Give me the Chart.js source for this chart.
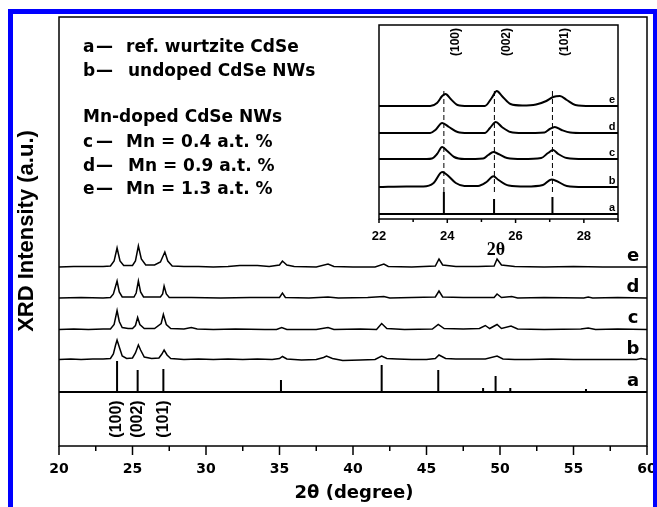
<!DOCTYPE html>
<html>
<head>
<meta charset="utf-8">
<script src="https://cdn.jsdelivr.net/npm/chart.js@4"></script>
<style>
  body { margin: 0; background: #fff; }
  #wrap { position: relative; width: 657px; height: 507px; }
  #mainChart { position: absolute; left: 0; top: 0; }
  #insetChart { position: absolute; left: 340px; top: 15px; }
</style>
</head>
<body>
<div id="wrap">
  <canvas id="mainChart" width="657" height="507"></canvas>
  <canvas id="insetChart" width="300" height="250"></canvas>
</div>
<script>
// series order, bottom to top
const seriesLetters = ['a', 'b', 'c', 'd', 'e'];
const legendTexts = ['ref. wurtzite CdSe', 'undoped CdSe NWs', 'Mn = 0.4 a.t. %', 'Mn = 0.9 a.t. %', 'Mn = 1.3 a.t. %'];
const hklLabels = ['(100)', '(002)', '(101)'];

// main pattern, 2θ 20-60
const mainTicks = [20, 25, 30, 35, 40, 45, 50, 55, 60];
const refPeaks2T = [23.95, 25.35, 27.1, 35.1, 41.95, 45.8, 48.85, 49.7, 50.7, 55.85];
const refPeaksI = [31, 22, 23, 12, 27, 22, 4, 16, 4, 3];
const mainOffsets = [54, 86, 116.5, 148, 179];

const traceB = [[20,0.5],[20.8,1],[21.5,0.5],[22.3,1],[23,1],[23.5,1.5],[23.7,6],[23.85,15],[23.95,20],[24.1,13],[24.3,4],[24.6,1.5],[25.0,2],[25.2,7],[25.4,15],[25.55,10],[25.8,3],[26.3,1.5],[26.8,2],[27.0,6],[27.15,10],[27.35,5],[27.6,1.5],[28.5,0.5],[29.5,1],[30.5,0.5],[31.5,1],[32.5,0.5],[33.5,1],[34.5,0.5],[35.0,1.5],[35.2,3.5],[35.5,1],[36.5,0],[37.5,0.5],[38.0,2.5],[38.2,4],[38.6,1.5],[39.3,-0.5],[40.5,0],[41.5,0.5],[41.95,4],[42.3,1.5],[43,1],[44,0.5],[45,0.5],[45.6,1.5],[45.85,5],[46.3,1.5],[47,1],[48,1],[49,1],[49.8,4],[50.2,1],[51,0.5],[52,0.5],[53.5,1],[55,0.5],[56.5,0.5],[58,0.5],[59.3,0.5],[59.6,1.5],[60,0.5]];
const traceC = [[20,0],[21,0.5],[22,0],[23,0.5],[23.5,0.5],[23.75,5],[23.95,19],[24.1,8],[24.3,2],[24.7,1],[25,1],[25.2,4],[25.35,12],[25.5,5],[25.8,1],[26.5,1],[26.95,6],[27.1,15],[27.3,5],[27.6,1],[28.5,0.5],[29.0,2],[29.4,0.5],[30.5,0],[32,0.5],[34,0],[34.8,0],[35.15,2],[35.5,0],[37.5,0],[38.3,2],[38.7,0],[40.5,0.5],[41.6,0],[41.95,6],[42.3,1],[43.5,0],[45.4,0.5],[45.8,5],[46.2,1],[47.5,0.5],[48.6,1],[49.0,4],[49.3,1],[49.8,5],[50.1,1],[50.75,3.5],[51.2,0.5],[53,0],[55.5,0.5],[56,1.5],[56.5,0],[58,0.5],[60,0]];
const traceD = [[20,0],[21.5,0.5],[23,0],[23.5,0.5],[23.7,4],[23.95,17],[24.1,6],[24.3,1],[25.1,1],[25.25,5],[25.4,17],[25.55,6],[25.75,1],[26.9,1],[27.05,4],[27.15,12],[27.3,4],[27.5,0.5],[29,0.5],[31,0],[33,0.5],[35.0,0.5],[35.2,5],[35.4,0.5],[37,0],[38.3,1],[39,0],[41,0.5],[42.1,1.5],[42.5,0],[44,0.5],[45.6,1],[45.85,7],[46.1,1],[47.5,0.5],[49.6,0.5],[49.8,4],[50.1,0.5],[50.8,1.5],[51.2,0],[53,0.5],[55.7,0],[56.0,1],[56.3,0],[58,0.5],[60,0]];
const traceE = [[20,0],[21,0.5],[22,0.5],[23,0.5],[23.5,1],[23.75,6],[23.95,19],[24.15,6],[24.4,1.5],[25,1.5],[25.2,6],[25.4,21],[25.6,8],[25.9,2],[26.5,2],[26.9,5],[27.2,15],[27.4,6],[27.7,1],[28.5,0.5],[29.5,0.5],[30.5,0],[31.5,0.5],[32.3,1.5],[33.5,1.5],[34.3,0.5],[35.0,2],[35.2,6],[35.5,2],[36,0.5],[37.5,0],[38.3,3],[38.7,0.5],[40,0],[41.5,0],[42.1,3],[42.4,0.5],[44,0],[45.6,1],[45.85,8],[46.1,2],[47,0.5],[48.5,0.5],[49.6,1],[49.8,8],[50.1,2],[51,0.5],[53,0],[55,0.5],[57,0],[60,0]];

// inset, 2θ 22-29
const insetTicks = [22, 24, 26, 28];
const insetRef2T = [23.9, 25.37, 27.08];
const insetRefI = [22, 15, 17];
const insetOffsets = [5, 32, 60, 86, 113];
const guide2T = [23.9, 25.38, 27.08];
const guideRange = [27, 130];

const insetB = [[22,0],[22.8,0.5],[23.3,0.5],[23.6,4],[23.85,15],[24.0,12],[24.25,4],[24.5,1],[24.9,1],[25.15,5],[25.35,10.7],[25.5,7],[25.8,1.5],[26.3,0.5],[26.8,2],[27.05,7.4],[27.2,6],[27.5,1],[28,0],[29,0]];
const insetC = [[22,0],[23.4,0],[23.55,0.5],[23.7,5],[23.85,12],[24.0,8],[24.2,2],[24.5,0],[25.05,0.5],[25.2,4],[25.35,7],[25.5,5],[25.75,1],[26.2,0],[26.75,1],[26.95,6],[27.1,9],[27.25,5],[27.5,1],[28,0],[29,0]];
const insetD = [[22,0],[23.5,0],[23.65,3],[23.85,10],[24.05,6],[24.3,1],[24.6,0],[25.1,0],[25.25,5],[25.42,11],[25.6,6],[25.85,1],[26.2,0],[26.85,0.5],[27.0,4],[27.15,6],[27.35,3],[27.6,0.5],[28,0],[29,0]];
const insetE = [[22,0],[23.5,0],[23.7,3],[23.85,10],[23.95,12],[24.1,7],[24.3,1],[24.6,0],[25.1,0],[25.3,8],[25.45,15],[25.6,10],[25.85,2],[26.2,0.5],[26.6,1.5],[26.9,5],[27.1,9],[27.3,10],[27.5,6],[27.75,1],[28.2,0],[29,0]];

// sticks -> polyline
function stickTrace(pos, hts, from, to) {
  const pts = [[from, 0]];
  pos.forEach((p, i) => { pts.push([p, 0], [p, hts[i]], [p, 0]); });
  pts.push([to, 0]);
  return pts;
}

function lineSet(pts, off, width, smooth) {
  return {
    data: pts.map(([x, y]) => ({ x: x, y: y + off })),
    borderColor: '#000',
    borderWidth: width,
    pointRadius: 0,
    fill: false,
    tension: smooth ? 0.4 : 0,
    cubicInterpolationMode: smooth ? 'monotone' : 'default'
  };
}

const mainTraces = [stickTrace(refPeaks2T, refPeaksI, 20, 60), traceB, traceC, traceD, traceE];
const insetTraces = [stickTrace(insetRef2T, insetRefI, 22, 29), insetB, insetC, insetD, insetE];

// main chart: frame, ticks, texts
const mainDecor = {
  id: 'mainDecor',
  afterDraw(chart) {
    const { ctx, chartArea: a, scales: { x, y } } = chart;
    ctx.save();
    ctx.strokeStyle = '#000';
    ctx.lineWidth = 1.5;
    ctx.strokeRect(a.left, a.top, a.right - a.left, a.bottom - a.top);
    x.ticks.forEach(t => {
      const px = x.getPixelForValue(t.value);
      const len = mainTicks.includes(t.value) ? 9 : 5;
      ctx.beginPath();
      ctx.moveTo(px, a.bottom);
      ctx.lineTo(px, a.bottom + len);
      ctx.stroke();
    });

    // blue border
    ctx.fillStyle = '#0000ff';
    ctx.fillRect(8, 9, 649, 5);
    ctx.fillRect(8, 9, 5, 498);
    ctx.fillRect(653, 9, 4, 498);

    ctx.fillStyle = '#000';
    ctx.textBaseline = 'middle';

    // legend block
    ctx.font = 'bold 17px "DejaVu Sans"';
    ctx.textAlign = 'left';
    const rowsY = [48, 72, 143, 167, 190];
    const textX = [126, 128, 126, 128, 126];
    seriesLetters.forEach((l, i) => {
      ctx.fillText(l, 83, rowsY[i]);
      ctx.fillText('\u2014', 96, rowsY[i]);
      ctx.fillText(legendTexts[i], textX[i], rowsY[i]);
    });
    ctx.fillText('Mn-doped CdSe NWs', 83, 118);

    // series letters on the right
    ctx.font = 'bold 18px "DejaVu Sans"';
    ctx.textAlign = 'center';
    seriesLetters.forEach((l, i) => {
      ctx.fillText(l, 633, y.getPixelForValue(mainOffsets[i]) - 11);
    });

    // x title
    ctx.font = 'bold 18px "DejaVu Sans"';
    ctx.fillText('2\u03b8 (degree)', 354, 493);

    // y title
    ctx.save();
    ctx.translate(27, 231);
    ctx.rotate(-Math.PI / 2);
    ctx.font = 'bold 22px "Liberation Sans"';
    ctx.fillText('XRD Intensity (a.u.)', 0, 0);
    ctx.restore();

    // hkl under the reference sticks
    ctx.font = 'bold 16px "Liberation Sans"';
    hklLabels.forEach((h, i) => {
      ctx.save();
      ctx.translate(x.getPixelForValue(refPeaks2T[i]), 419);
      ctx.rotate(-Math.PI / 2);
      ctx.fillText(h, 0, 0);
      ctx.restore();
    });
    ctx.restore();
  }
};

new Chart(document.getElementById('mainChart'), {
  type: 'line',
  data: { datasets: mainTraces.map((t, i) => lineSet(t, mainOffsets[i], i === 0 ? 2 : 1.5, false)) },
  options: {
    responsive: false,
    animation: false,
    layout: { padding: { left: 59, right: 10, top: 17, bottom: 0 } },
    plugins: { legend: { display: false }, tooltip: { enabled: false } },
    scales: {
      x: {
        type: 'linear',
        min: 20,
        max: 60,
        grid: { display: false, drawTicks: false },
        border: { display: false },
        ticks: {
          stepSize: 2.5,
          autoSkip: false,
          maxRotation: 0,
          padding: 15,
          color: '#000',
          font: { family: 'DejaVu Sans', size: 14, weight: 'bold' },
          callback: v => (mainTicks.includes(v) ? String(v) : '')
        },
        afterFit: s => { s.height = 61; s.paddingLeft = 0; s.paddingRight = 0; }
      },
      y: { display: false, min: 0, max: 429 }
    }
  },
  plugins: [mainDecor]
});

// inset: frame, ticks, labels
const insetDecor = {
  id: 'insetDecor',
  afterDraw(chart) {
    const { ctx, chartArea: a, scales: { x, y } } = chart;
    ctx.save();
    ctx.strokeStyle = '#000';
    ctx.lineWidth = 1.5;
    ctx.strokeRect(a.left, a.top, a.right - a.left, a.bottom - a.top);
    x.ticks.forEach(t => {
      const px = x.getPixelForValue(t.value);
      const len = insetTicks.includes(t.value) ? 4 : 3;
      ctx.beginPath();
      ctx.moveTo(px, a.bottom);
      ctx.lineTo(px, a.bottom + len);
      ctx.stroke();
    });

    ctx.fillStyle = '#000';
    ctx.textBaseline = 'middle';
    ctx.textAlign = 'center';
    ctx.font = 'bold 11px "Liberation Sans"';
    seriesLetters.forEach((l, i) => {
      ctx.fillText(l, 272, y.getPixelForValue(insetOffsets[i]) - 6);
    });

    ctx.font = 'bold 18px "Liberation Serif"';
    ctx.fillText('2\u03b8', 156, 235);

    ctx.font = 'bold 12px "Liberation Sans"';
    hklLabels.forEach((h, i) => {
      ctx.save();
      ctx.translate(x.getPixelForValue(guide2T[i]) + 12, 27);
      ctx.rotate(-Math.PI / 2);
      ctx.fillText(h, 0, 0);
      ctx.restore();
    });
    ctx.restore();
  }
};

const guideSets = guide2T.map(g => ({
  data: [{ x: g, y: guideRange[0] }, { x: g, y: guideRange[1] }],
  borderColor: '#000',
  borderWidth: 1,
  borderDash: [5, 3],
  pointRadius: 0,
  fill: false
}));

new Chart(document.getElementById('insetChart'), {
  type: 'line',
  data: {
    datasets: insetTraces.map((t, i) => lineSet(t, insetOffsets[i], 2, i !== 0)).concat(guideSets)
  },
  options: {
    responsive: false,
    animation: false,
    layout: { padding: { left: 39, right: 22, top: 10, bottom: 0 } },
    plugins: { legend: { display: false }, tooltip: { enabled: false } },
    scales: {
      x: {
        type: 'linear',
        min: 22,
        max: 29,
        grid: { display: false, drawTicks: false },
        border: { display: false },
        ticks: {
          stepSize: 1,
          autoSkip: false,
          maxRotation: 0,
          padding: 10,
          color: '#000',
          font: { family: 'Liberation Sans', size: 13, weight: 'bold' },
          callback: v => (insetTicks.includes(v) ? String(v) : '')
        },
        afterFit: s => { s.height = 46; s.paddingLeft = 0; s.paddingRight = 0; }
      },
      y: { display: false, min: 0, max: 194 }
    }
  },
  plugins: [insetDecor]
});
</script>
</body>
</html>
